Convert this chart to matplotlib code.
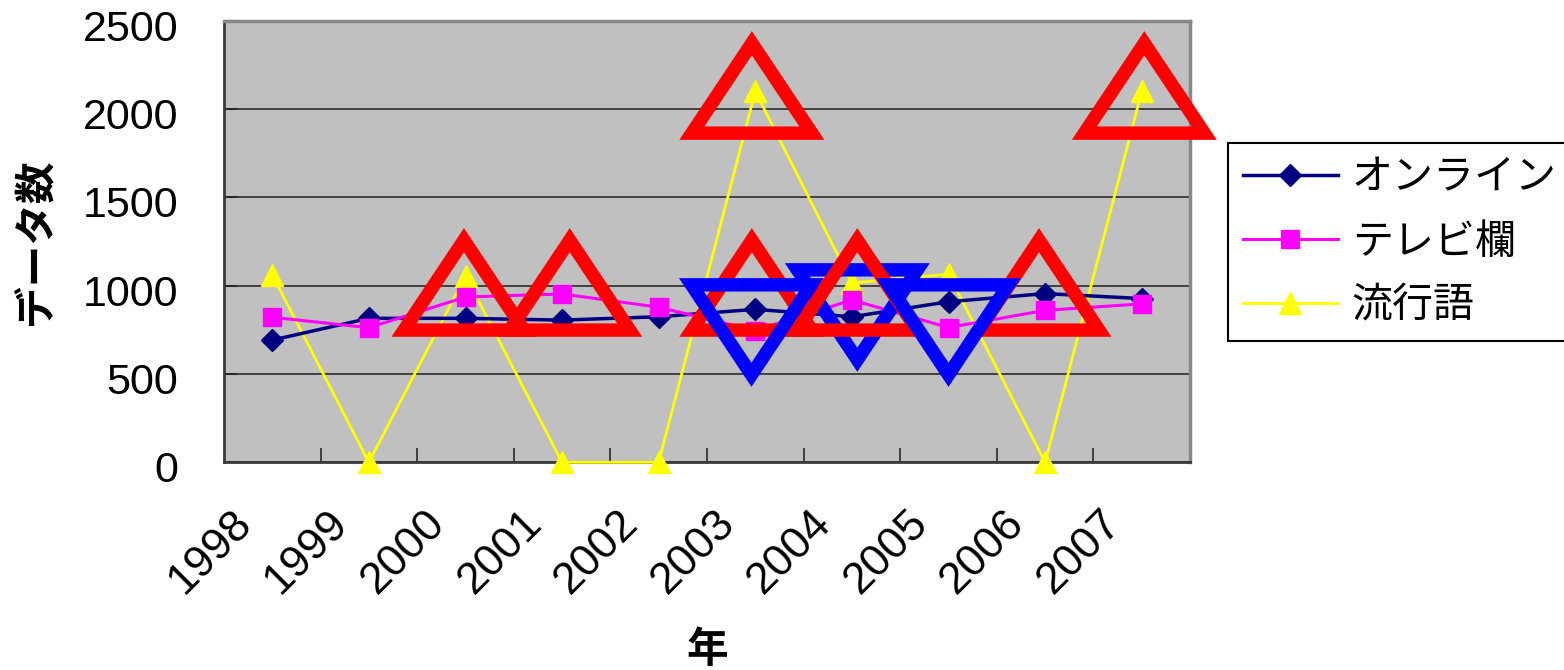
import matplotlib
matplotlib.use("Agg")
import matplotlib.pyplot as plt
from matplotlib.patches import Polygon
from matplotlib.transforms import ScaledTranslation

# ---- data ----
years = ['1998', '1999', '2000', '2001', '2002', '2003', '2004', '2005', '2006', '2007']
online = [692, 815, 815, 805, 824, 866, 824, 909, 955, 927]
tv = [821, 762, 936, 953, 878, 746, 919, 763, 860, 897]
slang = [1060, 0, 1055, 0, 0, 2100, 1015, 1065, 0, 2100]
series_names = ['オンライン', 'テレビ欄', '流行語']
y_ticks = [0, 500, 1000, 1500, 2000, 2500]

# annotation shapes (centre in category index / value units)
red_up_x = [1.984, 3.079, 4.964, 4.964, 6.056, 7.937, 9.027]
red_up_y = [1003, 1003, 2118, 1003, 1003, 1003, 2118]
blue_down_x = [4.96, 6.056, 7.0]
blue_down_y = [750, 835, 750]

JP = ['Noto Sans CJK JP', 'DejaVu Sans']
NUM = ['Liberation Sans', 'DejaVu Sans']

DPI = 100
fig = plt.figure(figsize=(15.64, 6.70), dpi=DPI)
ax = fig.add_axes([224 / 1564, 1 - 462.3 / 670, 966 / 1564, 441.6 / 670])
ax.set_facecolor('#C0C0C0')

x = list(range(len(years)))
l3, = ax.plot(x, slang, color='#FFFF00', lw=2.0, marker='^', ms=15.5,
              mec='#FFFF00', mfc='#FFFF00', clip_on=False, zorder=3)
l1, = ax.plot(x, online, color='#000080', lw=2.5, marker='D', ms=11.5,
              mec='#000080', mfc='#000080', clip_on=False, zorder=3.1)
l2, = ax.plot(x, tv, color='#FF00FF', lw=2.2, marker='s', ms=13.5,
              mec='#FF00FF', mfc='#FF00FF', clip_on=False, zorder=3.2)

ax.set_xlim(-0.5, len(years) - 0.5)
ax.set_ylim(0, 2500)

# shapes
W = 1.241      # category units
H = 509.0      # value units
LW = 9.65
red_z = [5, 5, 5, 5, 7, 7, 7]
blue_z = [6, 6, 8]
for cx, cy, z in zip(red_up_x, red_up_y, red_z):
    ax.add_patch(Polygon([(cx, cy + H / 2), (cx - W / 2, cy - H / 2), (cx + W / 2, cy - H / 2)],
                         closed=True, fill=False, edgecolor='#FF0000', lw=LW,
                         joinstyle='miter', clip_on=False, zorder=z))
for cx, cy, z in zip(blue_down_x, blue_down_y, blue_z):
    ax.add_patch(Polygon([(cx, cy - H / 2), (cx - W / 2, cy + H / 2), (cx + W / 2, cy + H / 2)],
                         closed=True, fill=False, edgecolor='#0000FF', lw=LW,
                         joinstyle='miter', clip_on=False, zorder=z))

# grid
ax.set_yticks(y_ticks)
ax.yaxis.grid(True, color='#2a2a2a', lw=1.2)
ax.set_axisbelow(True)

# spines
for s in ['left', 'bottom']:
    ax.spines[s].set_color('#3a3a3a')
    ax.spines[s].set_linewidth(2.0)
for s in ['top', 'right']:
    ax.spines[s].set_color('#888888')
    ax.spines[s].set_linewidth(2.5)

# x ticks between categories
ax.set_xticks([i + 0.5 for i in range(len(years) - 1)])
ax.set_xticklabels([])
ax.tick_params(axis='x', direction='in', length=10, width=1.2, color='#2a2a2a')
ax.tick_params(axis='y', direction='in', length=9, width=1.5, color='#2a2a2a', pad=33)

ax.set_yticklabels([str(v) for v in y_ticks], fontsize=31, family=NUM)
yoff = ScaledTranslation(0, -4.5 / DPI, fig.dpi_scale_trans)
for lbl in ax.get_yticklabels():
    lbl.set_transform(lbl.get_transform() + yoff)

# x category labels
xoff = ScaledTranslation(-27 / DPI, -55 / DPI, fig.dpi_scale_trans)
for i, yr in enumerate(years):
    ax.text(i, 0, yr, transform=ax.get_xaxis_transform() + xoff, rotation=45,
            rotation_mode='anchor', ha='right', va='center', fontsize=32, family=NUM)

ax.set_ylabel('データ数', fontsize=30, fontweight='bold', family=JP)
ax.yaxis.set_label_coords(-0.173, 0.5)
ax.set_xlabel('年', fontsize=30, fontweight='bold', family=JP)
ax.xaxis.set_label_coords(0.5, -0.377)

leg = ax.legend([l1, l2, l3], series_names, loc='upper left',
                bbox_to_anchor=(1228 / 1564, 1 - 143 / 670), bbox_transform=fig.transFigure,
                borderaxespad=0, prop={'family': JP, 'size': 29.5},
                handlelength=2.33, handletextpad=0.33, labelspacing=0.56,
                borderpad=0.36, fancybox=False, framealpha=1, edgecolor='black')
leg.get_frame().set_linewidth(1.5)
leg.set_zorder(20)

fig.savefig('out.png', dpi=DPI)
